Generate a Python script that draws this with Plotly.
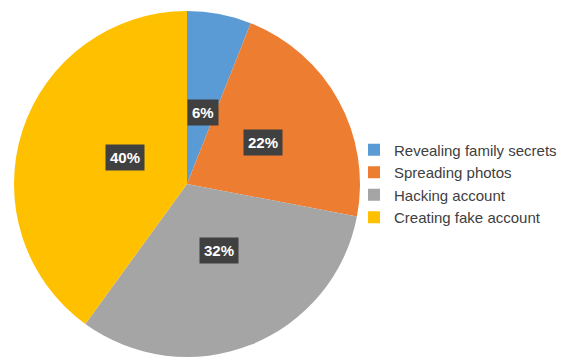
import math
import plotly.graph_objects as go

categories = ["Revealing family secrets", "Spreading photos", "Hacking account", "Creating fake account"]
values = [6, 22, 32, 40]
colors = ["#5B9BD5", "#ED7D31", "#A5A5A5", "#FFC000"]

W, H = 562, 359
cx, cy, R = 187, 184, 173  # pixel geometry of pie

fig = go.Figure(go.Pie(
    labels=categories,
    values=values,
    sort=False,
    direction="clockwise",
    rotation=0,
    marker=dict(colors=colors, line=dict(width=0)),
    textinfo="none",
    hoverinfo="label+percent",
    domain=dict(x=[(cx - R) / W, (cx + R) / W], y=[1 - (cy + R) / H, 1 - (cy - R) / H]),
))

total = sum(values)
cum = 0
anns = []
for v in values:
    mid = (cum + v / 2) / total * 2 * math.pi
    cum += v
    d = 0.5 * R
    px = cx + d * math.sin(mid)
    py = cy - d * math.cos(mid)
    anns.append(dict(
        x=px / W, y=1 - py / H, xref="paper", yref="paper",
        text="<b>%d%%</b>" % round(v / total * 100),
        showarrow=False,
        font=dict(family="Liberation Sans, Arial", size=15, color="white"),
        bgcolor="#404040", borderpad=4,
    ))

fig.update_layout(
    width=W, height=H,
    margin=dict(l=0, r=0, t=0, b=0, autoexpand=False),
    paper_bgcolor="white",
    plot_bgcolor="white",
    annotations=anns,
    legend=dict(
        x=1, y=1 - 183.5 / H, xanchor="right", yanchor="middle",
        font=dict(family="Liberation Sans, Arial", size=15, color="#404040"),
        itemwidth=30,
        bgcolor="rgba(0,0,0,0)",
    ),
)

fig.write_html("out.html")
